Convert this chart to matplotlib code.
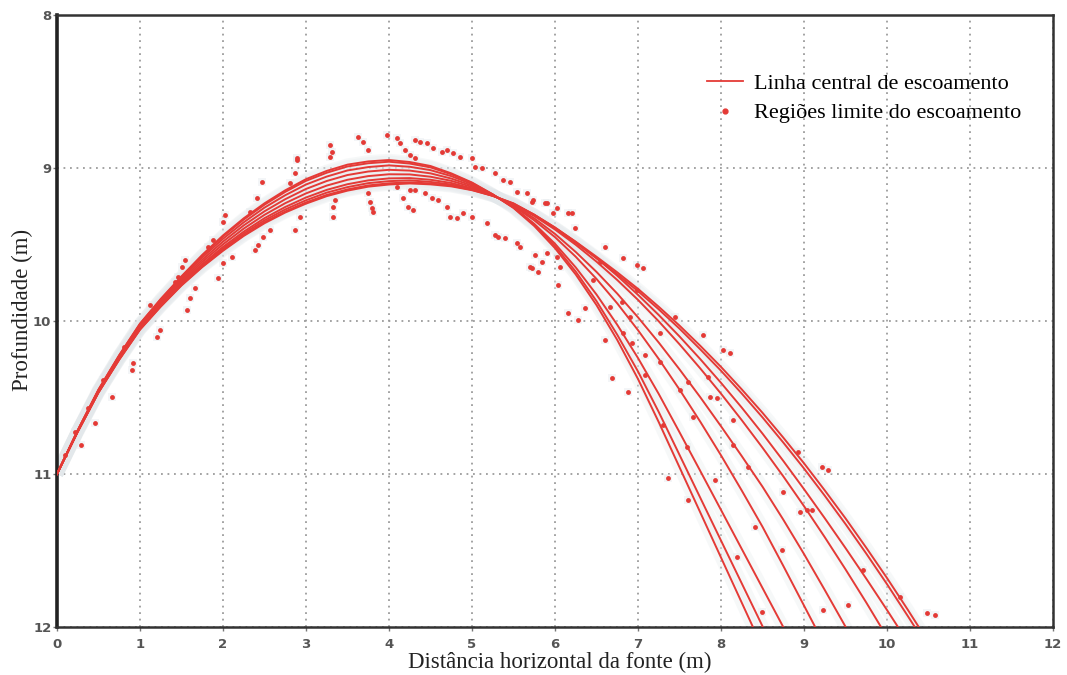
import numpy as np
import matplotlib.pyplot as plt
from matplotlib.lines import Line2D

# distancias horizontais (m) onde as linhas centrais foram lidas
dist = [0, 0.25, 0.5, 0.75, 1, 1.25, 1.5, 1.75, 2, 2.25, 2.5, 2.75, 3, 3.25, 3.5, 3.75,
        4, 4.25, 4.5, 4.75, 5, 5.25, 5.5, 5.75, 6, 6.25, 6.5, 6.75, 7, 7.25, 7.5, 7.75,
        8, 8.25, 8.5, 8.75, 9, 9.25, 9.5, 9.75, 10, 10.25, 10.5]

# profundidade (m) de cada linha central de escoamento
linha_a = [11.0, 10.714, 10.448, 10.223, 10.017, 9.856, 9.708, 9.568, 9.441, 9.329, 9.231, 9.146,
           9.073, 9.019, 8.978, 8.957, 8.948, 8.961, 8.987, 9.035, 9.095, 9.172, 9.261,
           9.379, 9.524, 9.696, 9.896, 10.124, 10.379, 10.661, 10.956, 11.251, 11.546, 11.841, 12.136]
linha_b = [11.0, 10.715, 10.45, 10.225, 10.02, 9.859, 9.712, 9.573, 9.448, 9.337, 9.24, 9.156,
           9.084, 9.031, 8.99, 8.969, 8.959, 8.971, 8.996, 9.041, 9.098, 9.173, 9.259,
           9.37, 9.51, 9.677, 9.87, 10.09, 10.33, 10.595, 10.875, 11.155, 11.435, 11.715, 11.995, 12.275]
linha_c = [11.0, 10.716, 10.453, 10.229, 10.026, 9.867, 9.721, 9.585, 9.463, 9.355, 9.259, 9.178,
           9.108, 9.056, 9.016, 8.994, 8.983, 8.992, 9.014, 9.053, 9.106, 9.174, 9.255,
           9.365, 9.495, 9.65, 9.827, 10.025, 10.242, 10.477, 10.727, 10.98, 11.235, 11.49, 11.745, 12.0, 12.255]
linha_d = [11.0, 10.718, 10.456, 10.235, 10.033, 9.876, 9.732, 9.6, 9.481, 9.375, 9.283, 9.204,
           9.137, 9.085, 9.046, 9.023, 9.012, 9.017, 9.035, 9.069, 9.115, 9.176, 9.249,
           9.342, 9.452, 9.58, 9.725, 9.885, 10.06, 10.248, 10.448, 10.658, 10.878, 11.108, 11.345,
           11.60, 11.86, 12.12]
linha_e = [11.0, 10.72, 10.46, 10.24, 10.04, 9.885, 9.743, 9.614, 9.499, 9.396, 9.306, 9.23,
           9.166, 9.115, 9.077, 9.053, 9.041, 9.042, 9.057, 9.084, 9.124, 9.178, 9.244,
           9.329, 9.431, 9.549, 9.679, 9.821, 9.976, 10.141, 10.316, 10.498, 10.688, 10.883, 11.083,
           11.298, 11.523, 11.758, 11.998, 12.238]
linha_f = [11.0, 10.722, 10.463, 10.245, 10.047, 9.894, 9.753, 9.628, 9.516, 9.416, 9.328, 9.255,
           9.193, 9.143, 9.106, 9.081, 9.068, 9.066, 9.077, 9.098, 9.133, 9.18, 9.239,
           9.314, 9.402, 9.502, 9.612, 9.732, 9.862, 10.002, 10.152, 10.31, 10.475, 10.648, 10.828,
           11.015, 11.21, 11.413, 11.623, 11.84, 12.065]
linha_g = [11.0, 10.723, 10.466, 10.248, 10.051, 9.899, 9.76, 9.636, 9.527, 9.428, 9.342, 9.271,
           9.211, 9.161, 9.125, 9.099, 9.086, 9.081, 9.091, 9.108, 9.138, 9.181, 9.236,
           9.306, 9.389, 9.484, 9.589, 9.704, 9.829, 9.961, 10.101, 10.249, 10.404, 10.566, 10.736,
           10.914, 11.099, 11.289, 11.484, 11.684, 11.889, 12.099]
linha_h = [11.0, 10.724, 10.467, 10.251, 10.055, 9.904, 9.765, 9.644, 9.536, 9.439, 9.354, 9.284,
           9.225, 9.176, 9.14, 9.114, 9.1, 9.094, 9.101, 9.115, 9.143, 9.182, 9.233,
           9.307, 9.395, 9.49, 9.59, 9.695, 9.805, 9.924, 10.05, 10.185, 10.325, 10.474, 10.63,
           10.794, 10.964, 11.142, 11.327, 11.52, 11.72, 11.928, 12.14]
linha_i = [11.0, 10.724, 10.468, 10.253, 10.057, 9.906, 9.768, 9.648, 9.541, 9.444, 9.361, 9.291,
           9.233, 9.184, 9.148, 9.122, 9.108, 9.101, 9.107, 9.12, 9.145, 9.182, 9.231,
           9.305, 9.39, 9.482, 9.58, 9.682, 9.79, 9.907, 10.03, 10.162, 10.30, 10.447, 10.60,
           10.762, 10.93, 11.107, 11.29, 11.482, 11.68, 11.887, 12.10]

linhas = [linha_a, linha_b, linha_c, linha_d, linha_e, linha_f, linha_g, linha_h, linha_i]

# pontos das regioes limite do escoamento
lim_x = [0.096, 0.217, 0.285, 0.377, 0.458, 0.558, 0.659, 0.807, 0.900, 0.920,
         1.120, 1.100, 1.201, 1.241, 1.422, 1.462, 1.502, 1.542, 1.562, 1.602,
         1.663, 1.823, 1.884, 1.944, 2.004, 2.024, 2.004, 2.104, 2.386, 2.426,
         2.486, 2.566, 2.466, 2.406, 2.325, 2.807, 2.888, 2.867, 2.928, 2.888,
         2.867, 3.289, 3.309, 3.289, 3.349, 3.329, 3.329, 3.630, 3.691, 3.751,
         3.751, 3.771, 3.791, 3.811, 3.972, 4.092, 4.133, 4.193, 4.253, 4.313,
         4.092, 4.173, 4.233, 4.293, 4.313, 4.373, 4.454, 4.534, 4.635, 4.695,
         4.775, 4.855, 4.253, 4.313, 4.434, 4.514, 4.594, 4.695, 4.735, 4.815,
         4.996, 5.036, 5.116, 5.277, 5.378, 5.458, 5.538, 5.659, 5.739, 5.900,
         5.980, 4.896, 4.996, 5.177, 5.277, 5.317, 5.398, 5.538, 5.578, 5.699,
         5.799, 5.759, 5.900, 6.020, 5.719, 5.880, 6.020, 6.161, 6.201, 6.241,
         5.839, 5.719, 6.060, 6.040, 6.602, 6.823, 6.542, 6.984, 7.064, 6.462,
         6.663, 6.803, 6.984, 6.161, 6.281, 6.361, 6.904, 7.446, 7.787, 7.265,
         8.028, 8.108, 6.823, 6.924, 7.084, 7.265, 6.602, 6.683, 6.884, 7.084,
         7.606, 7.506, 7.867, 7.948, 7.667, 8.149, 7.305, 7.586, 8.149, 8.329,
         7.928, 7.365, 7.606, 8.410, 8.751, 8.932, 9.213, 9.293, 8.952, 9.032,
         9.092, 8.731, 8.189, 8.490, 9.233, 9.534, 9.715, 10.157, 10.478, 10.578,
         7.847]
lim_y = [10.876, 10.723, 10.810, 10.571, 10.669, 10.386, 10.495, 10.168, 10.320, 10.277,
         9.895, 9.972, 10.102, 10.059, 9.743, 9.710, 9.645, 9.601, 9.928, 9.852,
         9.787, 9.514, 9.471, 9.721, 9.623, 9.307, 9.351, 9.580, 9.536, 9.503,
         9.449, 9.405, 9.089, 9.198, 9.285, 9.100, 8.948, 9.405, 9.318, 8.937,
         9.035, 8.850, 8.893, 8.926, 9.209, 9.253, 9.318, 8.795, 8.828, 8.882,
         9.166, 9.220, 9.264, 9.285, 8.784, 8.806, 8.839, 8.882, 8.915, 8.937,
         9.122, 9.198, 9.253, 9.275, 8.817, 8.828, 8.839, 8.871, 8.893, 8.882,
         8.904, 8.926, 9.144, 9.144, 9.166, 9.198, 9.209, 9.253, 9.318, 9.329,
         8.937, 8.991, 9.002, 9.035, 9.078, 9.089, 9.155, 9.166, 9.209, 9.231,
         9.296, 9.296, 9.318, 9.362, 9.438, 9.449, 9.460, 9.492, 9.514, 9.645,
         9.678, 9.569, 9.558, 9.580, 9.220, 9.231, 9.264, 9.296, 9.296, 9.394,
         9.612, 9.656, 9.645, 9.765, 9.514, 9.590, 9.612, 9.634, 9.656, 9.732,
         9.906, 9.874, 9.797, 9.950, 9.993, 9.917, 9.972, 9.972, 10.092, 10.081,
         10.190, 10.211, 10.081, 10.146, 10.222, 10.266, 10.124, 10.375, 10.462, 10.353,
         10.397, 10.451, 10.495, 10.505, 10.625, 10.647, 10.680, 10.822, 10.810, 10.952,
         11.039, 11.028, 11.170, 11.344, 11.116, 10.854, 10.952, 10.974, 11.246, 11.235,
         11.235, 11.497, 11.541, 11.900, 11.889, 11.856, 11.627, 11.802, 11.911, 11.922,
         10.364]

vermelho = "#e43a36"
serif = ["Liberation Serif", "DejaVu Serif"]

fig = plt.figure(figsize=(10.67, 6.75), dpi=100)
ax = fig.add_axes([0.0534, 0.0711, 0.9335, 0.9067])

ax.set_xlim(0, 12)
ax.set_ylim(12, 8)
ax.set_xticks(range(0, 13))
ax.set_yticks(range(8, 13))

ax.grid(True, color="#9c9c9c", linestyle=(0, (1, 2.6)), linewidth=1.3)
ax.set_axisbelow(True)

# halo claro em volta das linhas e dos pontos
for y in linhas:
    ax.plot(dist[:len(y)], y, color="#e3e8eb", lw=9, alpha=0.3, solid_capstyle="butt", zorder=1)
ax.scatter(lim_x, lim_y, s=40, marker="s", color="#e6ebee", alpha=0.45, lw=0, zorder=1)

for y in linhas:
    ax.plot(dist[:len(y)], y, color=vermelho, lw=1.4, zorder=3)

ax.plot(lim_x, lim_y, "o", color=vermelho, ms=3.5, mew=0, zorder=4)

for lado in ["top", "right", "bottom"]:
    ax.spines[lado].set_linestyle((0, (2.2, 1.0)))
    ax.spines[lado].set_color("#333333")
    ax.spines[lado].set_linewidth(1.8)
ax.spines["left"].set_color("#222222")
ax.spines["left"].set_linewidth(2.6)

ax.tick_params(axis="both", length=3, width=1, color="#777777",
               labelsize=9.5, labelcolor="#555555")
ax.tick_params(axis="x", pad=5)
ax.tick_params(axis="y", pad=1)
for lbl in ax.get_xticklabels() + ax.get_yticklabels():
    lbl.set_fontweight("bold")

ax.set_xlabel("Distância horizontal da fonte (m)", family=serif, fontsize=16.5, color="#222222")
ax.set_ylabel("Profundidade (m)", family=serif, fontsize=16.5, color="#222222")
ax.xaxis.set_label_coords(0.505, -0.040)
ax.yaxis.set_label_coords(-0.024, 0.518)

handles = [Line2D([], [], color=vermelho, lw=1.3),
           Line2D([], [], color=vermelho, marker="o", ms=3.5, lw=0)]
ax.legend(handles, ["Linha central de escoamento", "Regiões limite do escoamento"],
          loc="upper left", bbox_to_anchor=(0.644, 0.919), frameon=False,
          prop={"family": serif, "size": 16}, handlelength=1.6,
          handletextpad=0.5, labelspacing=0.4, borderaxespad=0)

fig.savefig("out.png", dpi=100)
